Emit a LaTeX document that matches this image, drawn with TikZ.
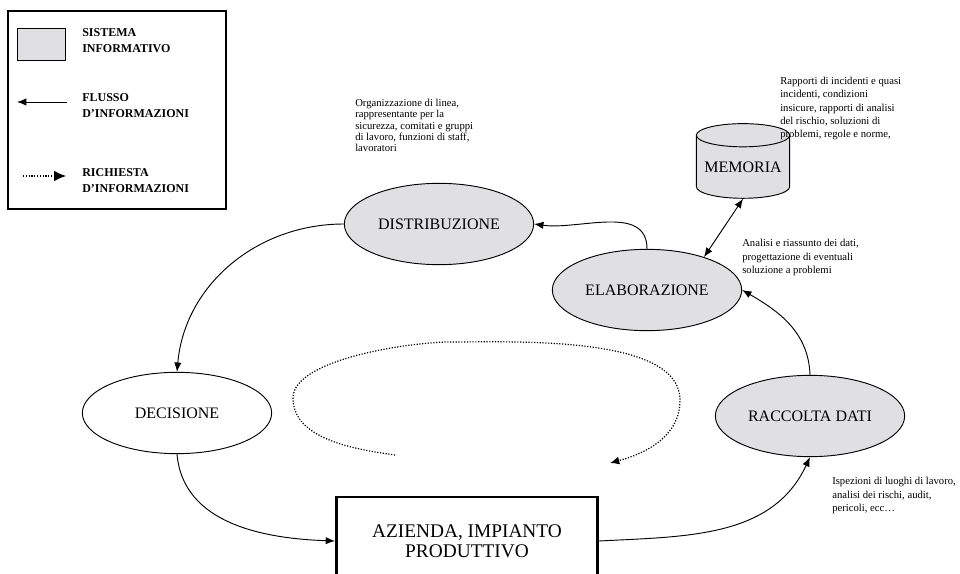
\documentclass[tikz,border=0pt]{standalone}
\usepackage{fontspec}
\setmainfont{Liberation Serif}
\usetikzlibrary{shapes.geometric,arrows.meta}
\definecolor{infogray}{RGB}{224,224,226}

\begin{document}
\begin{tikzpicture}
	[   x=0.75pt,y=-0.75pt,
	    enode/.style={draw=black,line width=0.7pt,fill=#1,ellipse,minimum width=142pt,minimum height=61pt,inner sep=0pt,font=\fontsize{12}{14}\selectfont},
	    note/.style={anchor=north west,align=left,inner sep=0pt,font=\fontsize{8}{10}\selectfont},
	    keytext/.style={anchor=west,align=left,inner sep=0pt,font=\fontsize{9}{12}\selectfont\bfseries},
	]
	\tikzset{normal arrow/.style={draw,line width=0.7pt,-{Latex[length=7pt,width=5.5pt]}}}
	\tikzset{both arrow/.style={draw,line width=0.7pt,{Latex[length=7pt,width=5.5pt]}-{Latex[length=7pt,width=5.5pt]}}}
	\tikzset{request arrow/.style={draw,line width=0.9pt,dash pattern=on 0.9pt off 1.2pt,-{Latex[length=7pt,width=6pt]}}}

	\useasboundingbox (0,0) rectangle (960,574);
	\clip (0,0) rectangle (960,574);

	\draw[line width=1pt] (8,11) rectangle (226,209);
	\node[draw=black,line width=0.7pt,fill=infogray,minimum width=36pt,minimum height=24pt,inner sep=0pt] (k-1) at (41,44) {};
	\node[keytext] (t-1) at (82,41) {SISTEMA\\INFORMATIVO};
	\coordinate (k-2a) at (67,102);
	\coordinate (k-2b) at (17,102);
	\path[normal arrow] (k-2a) -- (k-2b);
	\node[keytext] (t-2) at (82,106) {FLUSSO\\D'INFORMAZIONI};
	\coordinate (k-3a) at (23,176);
	\coordinate (k-3b) at (66,176);
	\path[request arrow,-{Latex[length=9pt,width=8pt]}] (k-3a) -- (k-3b);
	\node[keytext] (t-3) at (82,181) {RICHIESTA\\D'INFORMAZIONI};

	\node[enode=infogray] (dist) at (439,224) {DISTRIBUZIONE};
	\node[enode=infogray] (elab) at (647,290) {ELABORAZIONE};
	\node[enode=white] (dec) at (177,413) {DECISIONE};
	\node[enode=infogray] (rac) at (810,416) {RACCOLTA DATI};
	\node[draw=black,line width=0.7pt,fill=infogray,cylinder,shape border rotate=90,aspect=0.3,minimum width=70pt,minimum height=56pt,inner sep=0pt,font=\fontsize{12}{14}\selectfont] (mem) at (743,167) {MEMORIA};
	\node[draw=black,line width=2pt,minimum width=196pt,minimum height=66pt,align=center,font=\fontsize{14.5}{15}\selectfont] (az) at (467,541) {AZIENDA, IMPIANTO\\PRODUTTIVO};

	\node[note,font=\fontsize{8}{8.4}\selectfont] (n-1) at (355,99) {Organizzazione di linea,\\rappresentante per la\\sicurezza, comitati e gruppi\\di lavoro, funzioni di staff,\\lavoratori};
	\node[note] (n-2) at (780,77) {Rapporti di incidenti e quasi\\incidenti, condizioni\\insicure, rapporti di analisi\\del rischio, soluzioni di\\problemi, regole e norme,};
	\node[note] (n-3) at (742,239) {Analisi e riassunto dei dati,\\progettazione di eventuali\\soluzione a problemi};
	\node[note] (n-4) at (832,477) {Ispezioni di luoghi di lavoro,\\analisi dei rischi, audit,\\pericoli, ecc…};

	\path[normal arrow] (elab.north) to[out=90,in=-8] (dist.east);
	\path[normal arrow] (dist.west) to[out=180,in=85] (dec.north);
	\path[normal arrow] (dec.south) to[out=-85,in=178] (az.west);
	\path[normal arrow] (az.east) to[out=3,in=-115] (rac.south);
	\path[normal arrow] (rac.north) to[out=92,in=-30] (elab.east);
	\path[both arrow] (mem.south) -- (elab.30);

	\coordinate (q-1) at (395,455);
	\coordinate (q-2) at (610,463);
	\path[request arrow] (q-1) to[out=172,in=-90,looseness=0.9] (293,398) to[out=90,in=180,looseness=0.6] (450,342) to[out=0,in=90,looseness=0.7] (680,400) to[out=-90,in=15] (q-2);

\end{tikzpicture}
\end{document}
